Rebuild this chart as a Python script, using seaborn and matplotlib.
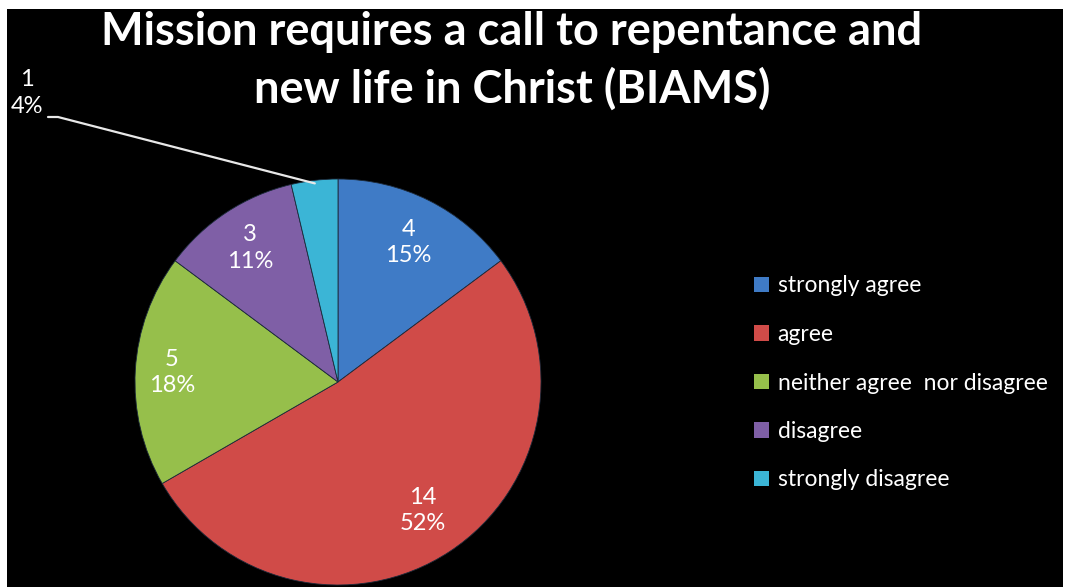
import numpy as np
import matplotlib
matplotlib.use("Agg")
import matplotlib.pyplot as plt
import matplotlib.patches as mpatches
import seaborn as sns

categories = ["strongly agree", "agree", "neither agree  nor disagree", "disagree", "strongly disagree"]
counts = [4, 14, 5, 3, 1]
percent_labels = ["15%", "52%", "18%", "11%", "4%"]
colors_hex = ["#3F7BC6", "#D04B48", "#96BF4B", "#7F5FA6", "#3BB5D6"]
title = "Mission requires a call to repentance and\nnew life in Christ (BIAMS)"

sns.set_theme(style="white")
plt.rcParams["font.family"] = ["Lato", "DejaVu Sans"]
palette = sns.color_palette(colors_hex)

W, H = 1067, 587
fig = plt.figure(figsize=(W / 100, H / 100), dpi=100, facecolor="white")

# black background panel
bg = fig.add_axes([7 / W, 0, (1063 - 7) / W, (587 - 9) / H])
bg.set_facecolor("black")
bg.set_xticks([]); bg.set_yticks([])
for s in bg.spines.values():
    s.set_visible(False)

cx, cy, r = 338, 382, 203
ax = fig.add_axes([(cx - r) / W, (H - cy - r) / H, 2 * r / W, 2 * r / H])
ax.set_facecolor("none")
ax.axis("off")

wedges, _ = ax.pie(counts, colors=palette, startangle=90, counterclock=False,
                   radius=1.0, wedgeprops=dict(edgecolor="#1c2a3a", linewidth=0.6))
ax.set_xlim(-1, 1); ax.set_ylim(-1, 1)

label_dist = [0.77, 0.76, 0.82, 0.79]
for i, w in enumerate(wedges[:4]):
    mid = np.deg2rad((w.theta1 + w.theta2) / 2)
    d = label_dist[i]
    ax.text(d * np.cos(mid), d * np.sin(mid), f"{counts[i]}\n{percent_labels[i]}",
            ha="center", va="center", color="white", fontsize=17, linespacing=1.3)

# outside label for the small slice with leader line
w = wedges[4]
mid = np.deg2rad((w.theta1 + w.theta2) / 2)
edge = np.array([np.cos(mid), np.sin(mid)])
inv = ax.transData.inverted()
fig.canvas.draw()
def fpix(x, y):
    return inv.transform((x, H - y))
elbow = fpix(58, 117)
start = fpix(48, 117)
ax.plot([start[0], elbow[0], edge[0] * 0.985], [start[1], elbow[1], edge[1] * 0.985],
        color="#e8e8e8", lw=1.6, clip_on=False)
fig.text(27 / W, 1 - 93 / H, f"{counts[4]}\n{percent_labels[4]}", ha="center", va="center",
         color="white", fontsize=17, linespacing=1.3)

fig.text(512 / W, 1 - 61 / H, title, ha="center", va="center", color="white",
         fontsize=32.5, fontweight="bold", linespacing=1.42)

handles = [mpatches.Patch(facecolor=c, edgecolor="none") for c in palette]
leg = fig.legend(handles, categories, loc="center left", bbox_to_anchor=(733 / W, 1 - 383 / H),
                 frameon=False, fontsize=16.5, labelcolor="white", handlelength=0.65,
                 handleheight=0.65, handletextpad=0.4, labelspacing=1.2)

fig.savefig("out.png", dpi=100, facecolor="white")
